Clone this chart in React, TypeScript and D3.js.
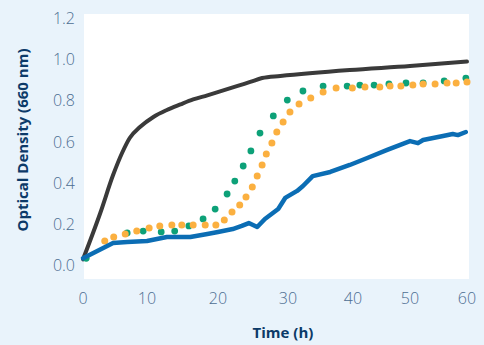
import React from "react";
import * as d3 from "d3";

const xTicks = [0, 10, 20, 30, 40, 50, 60];
const yTicks = [0, 0.2, 0.4, 0.6, 0.8, 1.0, 1.2];

const blackT = [0, 2.7, 4.7, 6.1, 7.3, 8.9, 10.9, 12.8, 14.7, 16.5, 18.5, 20.3, 24.6, 26.3, 28.9, 39.5, 50, 60];
const blackV = [0.03, 0.255, 0.439, 0.546, 0.619, 0.672, 0.721, 0.755, 0.782, 0.806, 0.826, 0.845, 0.891, 0.91, 0.92, 0.949, 0.968, 0.99];

const blueT = [0, 4.7, 6.9, 10, 12.8, 16.1, 18.5, 20, 22.1, 23.4, 24.4, 25.6, 26.7, 28.6, 29.6, 31.4, 32.3, 33.8, 36.5, 39.5, 42.5, 46, 50, 51.4, 52.3, 55.8, 57.5, 58.4, 59.8];
const blueV = [0.035, 0.109, 0.114, 0.119, 0.138, 0.138, 0.153, 0.163, 0.177, 0.192, 0.206, 0.187, 0.226, 0.274, 0.328, 0.362, 0.386, 0.434, 0.454, 0.488, 0.522, 0.561, 0.604, 0.594, 0.609, 0.629, 0.638, 0.633, 0.648];

const orangeT = [3.4, 4.8, 6.6, 8.4, 10.3, 11.8, 13.5, 14.9, 16.5, 18.2, 19.7, 20.9, 22, 23.1, 24, 24.9, 25.6, 26.3, 26.9, 27.7, 28.4, 29.3, 30.3, 31.7, 33.5, 35.4, 37.4, 39.9, 42.1, 44.7, 46.5, 48.4, 50.5, 52.3, 54.4, 56.5, 58.1, 60];
const orangeV = [0.119, 0.138, 0.153, 0.167, 0.182, 0.192, 0.197, 0.197, 0.197, 0.197, 0.197, 0.221, 0.26, 0.294, 0.333, 0.381, 0.434, 0.488, 0.541, 0.595, 0.648, 0.697, 0.745, 0.784, 0.813, 0.842, 0.862, 0.862, 0.866, 0.866, 0.871, 0.871, 0.876, 0.881, 0.881, 0.886, 0.886, 0.891];

const greenT = [0.5, 6.9, 9.4, 12, 13.9, 15.9, 17.9, 19.6, 21.3, 22.4, 23.6, 24.7, 26, 27.9, 29.9, 32.3, 35.4, 39.1, 41.2, 43.7, 46.3, 49.3, 52.3, 56, 59.8];
const greenV = [0.035, 0.158, 0.167, 0.163, 0.167, 0.192, 0.226, 0.274, 0.347, 0.41, 0.483, 0.556, 0.643, 0.726, 0.803, 0.847, 0.871, 0.871, 0.876, 0.876, 0.881, 0.886, 0.886, 0.896, 0.91];

const W = 484;
const H = 345;

export default function App() {
  const x = d3.scaleLinear().domain(xTicks).range([83, 147, 218, 288, 353, 410, 467]);
  const y = d3.scaleLinear().domain([0, 1.2]).range([265.5, 18.3]);

  const line = d3
    .line<[number, number]>()
    .x((d) => x(d[0]))
    .y((d) => y(d[1]))
    .curve(d3.curveMonotoneX);

  const black = blackT.map((t, i) => [t, blackV[i]] as [number, number]);
  const blue = blueT.map((t, i) => [t, blueV[i]] as [number, number]);
  const blueLine = d3
    .line<[number, number]>()
    .x((d) => x(d[0]))
    .y((d) => y(d[1]));

  const tickColor = "#4d6e92";
  const titleColor = "#0c3a68";
  const font = "'Open Sans', 'Noto Sans', sans-serif";

  return (
    <div style={{ position: "fixed", left: 0, top: 0, width: W, height: H }}>
      <svg width={W} height={H} style={{ display: "block" }}>
        <rect x={0} y={0} width={W} height={H} fill="#e9f3fb" />
        <rect x={84} y={14} width={385} height={265} fill="#ffffff" />

        {yTicks.map((t) => (
          <text
            key={"y" + t}
            x={75}
            y={y(t)}
            dy="0.35em"
            textAnchor="end"
            fontFamily={font}
            fontWeight={300}
            fontSize={16}
            fill={tickColor}
          >
            {t.toFixed(1)}
          </text>
        ))}
        {xTicks.map((t) => (
          <text
            key={"x" + t}
            x={x(t)}
            y={298}
            dy="0.35em"
            textAnchor="middle"
            fontFamily={font}
            fontWeight={300}
            fontSize={16}
            fill={tickColor}
          >
            {t}
          </text>
        ))}

        <text
          x={283}
          y={333}
          dy="0.35em"
          textAnchor="middle"
          fontFamily={font}
          fontWeight={700}
          fontSize={15}
          fill={titleColor}
        >
          Time (h)
        </text>
        <text
          transform="translate(23,140) rotate(-90)"
          dy="0.35em"
          textAnchor="middle"
          fontFamily={font}
          fontWeight={700}
          fontSize={15}
          fill={titleColor}
        >
          Optical Density (660 nm)
        </text>

        <path d={line(black) || ""} fill="none" stroke="#3a3a3a" strokeWidth={4} strokeLinecap="round" strokeLinejoin="round" />

        {greenT.map((t, i) => (
          <circle key={"g" + i} cx={x(t)} cy={y(greenV[i])} r={3.4} fill="#0da178" />
        ))}
        {orangeT.map((t, i) => (
          <circle key={"o" + i} cx={x(t)} cy={y(orangeV[i])} r={3.5} fill="#fbb040" />
        ))}

        <path d={blueLine(blue) || ""} fill="none" stroke="#0b6db4" strokeWidth={4.5} strokeLinecap="round" strokeLinejoin="round" />
      </svg>
    </div>
  );
}
